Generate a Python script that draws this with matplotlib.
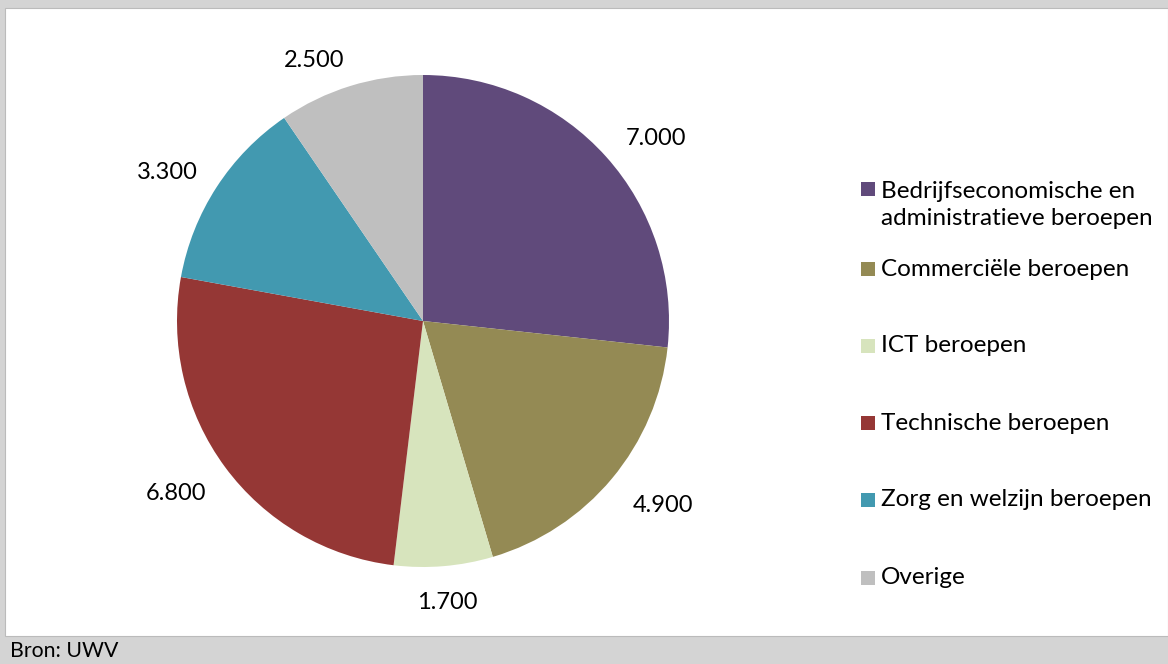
import matplotlib
matplotlib.use("Agg")
import matplotlib.pyplot as plt
from matplotlib.patches import Rectangle
import numpy as np

categories = ["Bedrijfseconomische en\nadministratieve beroepen", "Commerciële beroepen",
              "ICT beroepen", "Technische beroepen", "Zorg en welzijn beroepen", "Overige"]
values = [7000, 4900, 1700, 6800, 3300, 2500]
labels = ["7.000", "4.900", "1.700", "6.800", "3.300", "2.500"]
colors = ["#604A7B", "#948A54", "#D7E4BD", "#953735", "#4299B0", "#BFBFBF"]

plt.rcParams['font.family'] = ['Lato', 'DejaVu Sans']

W, H = 1168, 664
fig = plt.figure(figsize=(W/100, H/100), dpi=100)
fig.patch.set_facecolor("#D4D4D4")

# white panel
fig.patches.append(Rectangle((5/W, (H-636)/H), (W-5)/W, (636-8)/H, transform=fig.transFigure,
                             facecolor="white", edgecolor="#BBBBBB", linewidth=0.8, zorder=-10))

cx, cy, r = 423, 321, 246
ax = fig.add_axes([(cx-r)/W, (H-cy-r)/H, 2*r/W, 2*r/H])
ax.set_zorder(5)
ax.patch.set_alpha(0)
wedges, texts = ax.pie(values, labels=labels, colors=colors, startangle=90, counterclock=False,
                       labeldistance=1.2, textprops=dict(fontsize=17, color="#000000"),
                       wedgeprops=dict(linewidth=0))
ax.set_aspect('equal')
ax.set_xlim(-1, 1)
ax.set_ylim(-1, 1)
ax.axis('off')

# Excel-like "outside end" label placement: box corner touches a circle just outside the pie
fig.canvas.draw()
renderer = fig.canvas.get_renderer()
for w, t in zip(wedges, texts):
    ang = np.deg2rad((w.theta1 + w.theta2) / 2)
    c, s = np.cos(ang), np.sin(ang)
    bb = t.get_window_extent(renderer)
    hw = bb.width / 2 / r
    hh = 6.5 / r
    sx = np.sign(c) if abs(c) > 0.15 else 0.0
    sy = np.sign(s)
    d = 1.10
    t.set_position((d * c + sx * hw + 1.5 / r, d * s + sy * hh - 3.0 / r))
    t.set_ha('center')
    t.set_va('center_baseline')

# legend
ys = [189, 269, 346, 423, 500, 578]
for i, (cat, col) in enumerate(zip(categories, colors)):
    y = ys[i]
    fig.patches.append(Rectangle((861/W, (H-y-7)/H), 14/W, 14/H, transform=fig.transFigure,
                                 facecolor=col, edgecolor='none', zorder=6))
    ty = y + 16 if i == 0 else y
    fig.text(881/W, (H-ty)/H, cat, fontsize=17.5, va='center', ha='left',
             linespacing=1.3, zorder=6)

fig.text(10/W, (H-651)/H, "Bron: UWV", fontsize=15.3, va='center', ha='left')

fig.savefig("out.png", dpi=100, facecolor=fig.get_facecolor())
